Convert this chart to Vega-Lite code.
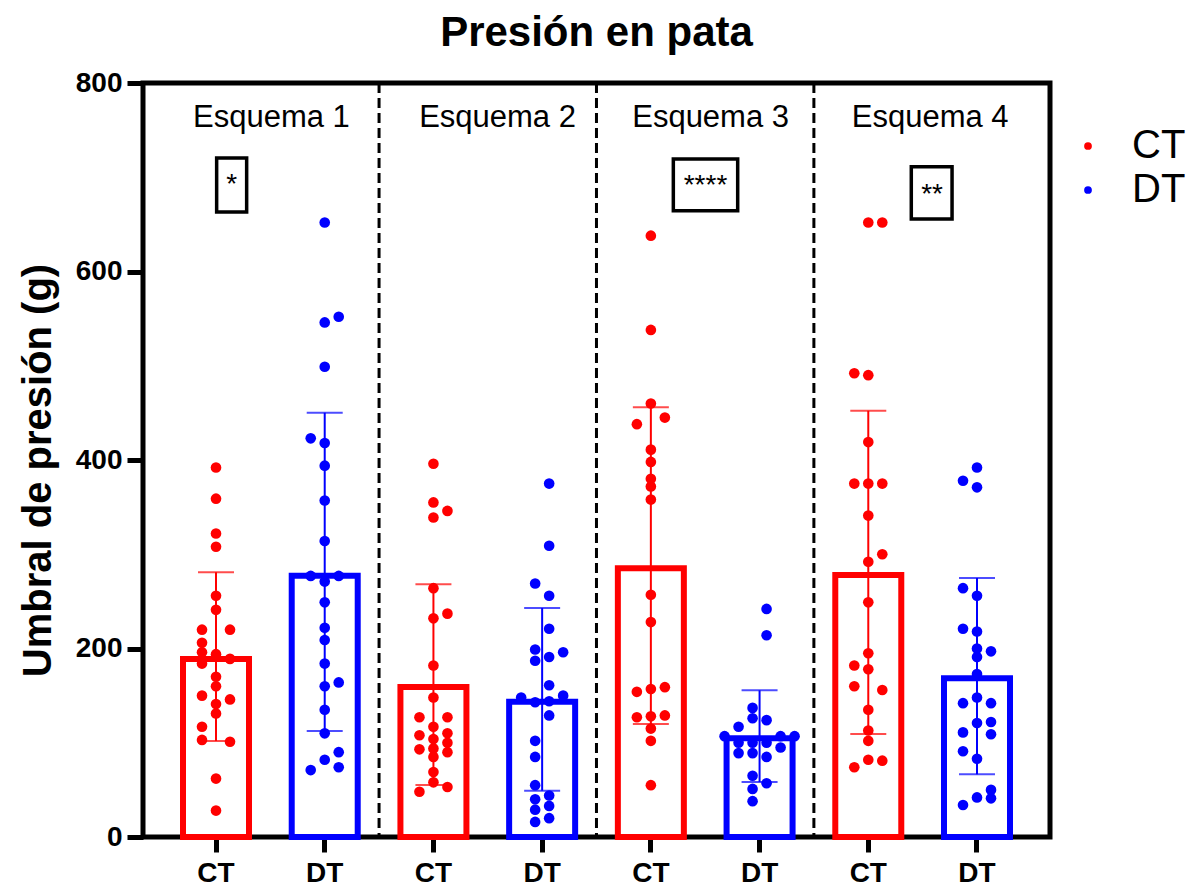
{
"$schema": "https://vega.github.io/schema/vega-lite/v6.json",
"width": 907, "height": 754,
"autosize": "none",
"padding": {"left": 143, "top": 83, "right": 140, "bottom": 49},
"background": "white",
"config": {
"font": "Liberation Sans",
"view": {"stroke": "black", "strokeWidth": 5},
"axisY": {"domain": false, "grid": false, "labelFontSize": 28, "labelFontWeight": "bold", "labelColor": "black", "labelFont": "Liberation Sans", "labelPadding": 5, "tickSize": 16, "tickWidth": 5, "tickColor": "black", "titleFontSize": 40, "titleFontWeight": "bold", "titleColor": "black", "titleFont": "Liberation Sans", "titleX": -105, "titleY": 387, "titleAngle": -90, "titleAlign": "center", "titleBaseline": "middle"},
"axisX": {"domain": false, "grid": false, "labelAngle": 0, "labelFontSize": 28, "labelFontWeight": "bold", "labelColor": "black", "labelFont": "Liberation Sans", "tickSize": 15, "tickWidth": 5, "tickColor": "black", "labelPadding": 29, "labelBaseline": "alphabetic"}
},
"title": {"text": "Presión en pata", "fontSize": 42, "fontWeight": "bold", "font": "Liberation Sans", "color": "black", "anchor": "middle", "baseline": "alphabetic", "frame": "group", "offset": -19},
"datasets": {
"puntos": [
{"cat":"1 CT","grupo":"CT","valor":392,"carril":0},{"cat":"1 CT","grupo":"CT","valor":359,"carril":0},{"cat":"1 CT","grupo":"CT","valor":322,"carril":0},{"cat":"1 CT","grupo":"CT","valor":308,"carril":0},{"cat":"1 CT","grupo":"CT","valor":256,"carril":0},{"cat":"1 CT","grupo":"CT","valor":241,"carril":0},{"cat":"1 CT","grupo":"CT","valor":220,"carril":-2},{"cat":"1 CT","grupo":"CT","valor":220,"carril":2},{"cat":"1 CT","grupo":"CT","valor":206,"carril":-2},{"cat":"1 CT","grupo":"CT","valor":196,"carril":-2},{"cat":"1 CT","grupo":"CT","valor":194,"carril":0},{"cat":"1 CT","grupo":"CT","valor":189,"carril":2},{"cat":"1 CT","grupo":"CT","valor":184,"carril":-2},{"cat":"1 CT","grupo":"CT","valor":170,"carril":0},{"cat":"1 CT","grupo":"CT","valor":160,"carril":0},{"cat":"1 CT","grupo":"CT","valor":150,"carril":-2},{"cat":"1 CT","grupo":"CT","valor":146,"carril":2},{"cat":"1 CT","grupo":"CT","valor":141,"carril":0},{"cat":"1 CT","grupo":"CT","valor":131,"carril":0},{"cat":"1 CT","grupo":"CT","valor":117,"carril":-2},{"cat":"1 CT","grupo":"CT","valor":103,"carril":-2},{"cat":"1 CT","grupo":"CT","valor":101,"carril":2},{"cat":"1 CT","grupo":"CT","valor":62,"carril":0},{"cat":"1 CT","grupo":"CT","valor":28,"carril":0},
{"cat":"1 DT","grupo":"DT","valor":652,"carril":0},{"cat":"1 DT","grupo":"DT","valor":552,"carril":2},{"cat":"1 DT","grupo":"DT","valor":546,"carril":0},{"cat":"1 DT","grupo":"DT","valor":499,"carril":0},{"cat":"1 DT","grupo":"DT","valor":423,"carril":-2},{"cat":"1 DT","grupo":"DT","valor":418,"carril":0},{"cat":"1 DT","grupo":"DT","valor":394,"carril":0},{"cat":"1 DT","grupo":"DT","valor":357,"carril":0},{"cat":"1 DT","grupo":"DT","valor":314,"carril":0},{"cat":"1 DT","grupo":"DT","valor":277,"carril":-2},{"cat":"1 DT","grupo":"DT","valor":277,"carril":2},{"cat":"1 DT","grupo":"DT","valor":271,"carril":0},{"cat":"1 DT","grupo":"DT","valor":249,"carril":0},{"cat":"1 DT","grupo":"DT","valor":222,"carril":0},{"cat":"1 DT","grupo":"DT","valor":209,"carril":0},{"cat":"1 DT","grupo":"DT","valor":184,"carril":0},{"cat":"1 DT","grupo":"DT","valor":164,"carril":2},{"cat":"1 DT","grupo":"DT","valor":160,"carril":0},{"cat":"1 DT","grupo":"DT","valor":135,"carril":0},{"cat":"1 DT","grupo":"DT","valor":110,"carril":0},{"cat":"1 DT","grupo":"DT","valor":90,"carril":2},{"cat":"1 DT","grupo":"DT","valor":82,"carril":0},{"cat":"1 DT","grupo":"DT","valor":74,"carril":2},{"cat":"1 DT","grupo":"DT","valor":71,"carril":-2},
{"cat":"2 CT","grupo":"CT","valor":396,"carril":0},{"cat":"2 CT","grupo":"CT","valor":355,"carril":0},{"cat":"2 CT","grupo":"CT","valor":346,"carril":2},{"cat":"2 CT","grupo":"CT","valor":339,"carril":0},{"cat":"2 CT","grupo":"CT","valor":264,"carril":0},{"cat":"2 CT","grupo":"CT","valor":237,"carril":2},{"cat":"2 CT","grupo":"CT","valor":232,"carril":0},{"cat":"2 CT","grupo":"CT","valor":182,"carril":0},{"cat":"2 CT","grupo":"CT","valor":148,"carril":0},{"cat":"2 CT","grupo":"CT","valor":127,"carril":-2},{"cat":"2 CT","grupo":"CT","valor":127,"carril":2},{"cat":"2 CT","grupo":"CT","valor":117,"carril":0},{"cat":"2 CT","grupo":"CT","valor":108,"carril":-2},{"cat":"2 CT","grupo":"CT","valor":110,"carril":2},{"cat":"2 CT","grupo":"CT","valor":104,"carril":0},{"cat":"2 CT","grupo":"CT","valor":100,"carril":2},{"cat":"2 CT","grupo":"CT","valor":94,"carril":0},{"cat":"2 CT","grupo":"CT","valor":93,"carril":-2},{"cat":"2 CT","grupo":"CT","valor":90,"carril":2},{"cat":"2 CT","grupo":"CT","valor":85,"carril":0},{"cat":"2 CT","grupo":"CT","valor":69,"carril":0},{"cat":"2 CT","grupo":"CT","valor":58,"carril":0},{"cat":"2 CT","grupo":"CT","valor":53,"carril":2},{"cat":"2 CT","grupo":"CT","valor":48,"carril":-2},
{"cat":"2 DT","grupo":"DT","valor":375,"carril":1},{"cat":"2 DT","grupo":"DT","valor":309,"carril":1},{"cat":"2 DT","grupo":"DT","valor":269,"carril":-1},{"cat":"2 DT","grupo":"DT","valor":256,"carril":1},{"cat":"2 DT","grupo":"DT","valor":221,"carril":1},{"cat":"2 DT","grupo":"DT","valor":199,"carril":-1},{"cat":"2 DT","grupo":"DT","valor":196,"carril":3},{"cat":"2 DT","grupo":"DT","valor":191,"carril":1},{"cat":"2 DT","grupo":"DT","valor":187,"carril":-1},{"cat":"2 DT","grupo":"DT","valor":161,"carril":1},{"cat":"2 DT","grupo":"DT","valor":148,"carril":-3},{"cat":"2 DT","grupo":"DT","valor":150,"carril":3},{"cat":"2 DT","grupo":"DT","valor":144,"carril":1},{"cat":"2 DT","grupo":"DT","valor":143,"carril":-1},{"cat":"2 DT","grupo":"DT","valor":129,"carril":1},{"cat":"2 DT","grupo":"DT","valor":102,"carril":-1},{"cat":"2 DT","grupo":"DT","valor":85,"carril":-1},{"cat":"2 DT","grupo":"DT","valor":55,"carril":-1},{"cat":"2 DT","grupo":"DT","valor":44,"carril":1},{"cat":"2 DT","grupo":"DT","valor":40,"carril":-1},{"cat":"2 DT","grupo":"DT","valor":33,"carril":1},{"cat":"2 DT","grupo":"DT","valor":29,"carril":-1},{"cat":"2 DT","grupo":"DT","valor":20,"carril":1},{"cat":"2 DT","grupo":"DT","valor":16,"carril":-1},
{"cat":"3 CT","grupo":"CT","valor":638,"carril":0},{"cat":"3 CT","grupo":"CT","valor":538,"carril":0},{"cat":"3 CT","grupo":"CT","valor":460,"carril":0},{"cat":"3 CT","grupo":"CT","valor":445,"carril":2},{"cat":"3 CT","grupo":"CT","valor":438,"carril":-2},{"cat":"3 CT","grupo":"CT","valor":411,"carril":0},{"cat":"3 CT","grupo":"CT","valor":398,"carril":0},{"cat":"3 CT","grupo":"CT","valor":380,"carril":0},{"cat":"3 CT","grupo":"CT","valor":372,"carril":0},{"cat":"3 CT","grupo":"CT","valor":358,"carril":0},{"cat":"3 CT","grupo":"CT","valor":257,"carril":0},{"cat":"3 CT","grupo":"CT","valor":228,"carril":0},{"cat":"3 CT","grupo":"CT","valor":154,"carril":-2},{"cat":"3 CT","grupo":"CT","valor":157,"carril":0},{"cat":"3 CT","grupo":"CT","valor":159,"carril":2},{"cat":"3 CT","grupo":"CT","valor":127,"carril":-2},{"cat":"3 CT","grupo":"CT","valor":128,"carril":0},{"cat":"3 CT","grupo":"CT","valor":129,"carril":2},{"cat":"3 CT","grupo":"CT","valor":115,"carril":0},{"cat":"3 CT","grupo":"CT","valor":102,"carril":0},{"cat":"3 CT","grupo":"CT","valor":55,"carril":0},
{"cat":"3 DT","grupo":"DT","valor":242,"carril":1},{"cat":"3 DT","grupo":"DT","valor":214,"carril":1},{"cat":"3 DT","grupo":"DT","valor":137,"carril":-1},{"cat":"3 DT","grupo":"DT","valor":126,"carril":-1},{"cat":"3 DT","grupo":"DT","valor":124,"carril":1},{"cat":"3 DT","grupo":"DT","valor":117,"carril":-3},{"cat":"3 DT","grupo":"DT","valor":107,"carril":-5},{"cat":"3 DT","grupo":"DT","valor":107,"carril":3},{"cat":"3 DT","grupo":"DT","valor":107,"carril":5},{"cat":"3 DT","grupo":"DT","valor":100,"carril":-3},{"cat":"3 DT","grupo":"DT","valor":100,"carril":-1},{"cat":"3 DT","grupo":"DT","valor":100,"carril":1},{"cat":"3 DT","grupo":"DT","valor":95,"carril":3},{"cat":"3 DT","grupo":"DT","valor":89,"carril":-3},{"cat":"3 DT","grupo":"DT","valor":89,"carril":-1},{"cat":"3 DT","grupo":"DT","valor":85,"carril":1},{"cat":"3 DT","grupo":"DT","valor":65,"carril":-1},{"cat":"3 DT","grupo":"DT","valor":57,"carril":1},{"cat":"3 DT","grupo":"DT","valor":51,"carril":-1},{"cat":"3 DT","grupo":"DT","valor":38,"carril":-1},
{"cat":"4 CT","grupo":"CT","valor":652,"carril":0},{"cat":"4 CT","grupo":"CT","valor":652,"carril":2},{"cat":"4 CT","grupo":"CT","valor":492,"carril":-2},{"cat":"4 CT","grupo":"CT","valor":490,"carril":0},{"cat":"4 CT","grupo":"CT","valor":419,"carril":0},{"cat":"4 CT","grupo":"CT","valor":375,"carril":-2},{"cat":"4 CT","grupo":"CT","valor":375,"carril":0},{"cat":"4 CT","grupo":"CT","valor":375,"carril":2},{"cat":"4 CT","grupo":"CT","valor":341,"carril":0},{"cat":"4 CT","grupo":"CT","valor":300,"carril":2},{"cat":"4 CT","grupo":"CT","valor":292,"carril":0},{"cat":"4 CT","grupo":"CT","valor":249,"carril":0},{"cat":"4 CT","grupo":"CT","valor":195,"carril":0},{"cat":"4 CT","grupo":"CT","valor":182,"carril":-2},{"cat":"4 CT","grupo":"CT","valor":178,"carril":0},{"cat":"4 CT","grupo":"CT","valor":160,"carril":-2},{"cat":"4 CT","grupo":"CT","valor":156,"carril":2},{"cat":"4 CT","grupo":"CT","valor":135,"carril":0},{"cat":"4 CT","grupo":"CT","valor":113,"carril":0},{"cat":"4 CT","grupo":"CT","valor":102,"carril":0},{"cat":"4 CT","grupo":"CT","valor":82,"carril":0},{"cat":"4 CT","grupo":"CT","valor":81,"carril":2},{"cat":"4 CT","grupo":"CT","valor":74,"carril":-2},
{"cat":"4 DT","grupo":"DT","valor":392,"carril":0},{"cat":"4 DT","grupo":"DT","valor":378,"carril":-2},{"cat":"4 DT","grupo":"DT","valor":371,"carril":0},{"cat":"4 DT","grupo":"DT","valor":264,"carril":-2},{"cat":"4 DT","grupo":"DT","valor":256,"carril":0},{"cat":"4 DT","grupo":"DT","valor":221,"carril":-2},{"cat":"4 DT","grupo":"DT","valor":218,"carril":0},{"cat":"4 DT","grupo":"DT","valor":200,"carril":0},{"cat":"4 DT","grupo":"DT","valor":197,"carril":2},{"cat":"4 DT","grupo":"DT","valor":191,"carril":0},{"cat":"4 DT","grupo":"DT","valor":173,"carril":0},{"cat":"4 DT","grupo":"DT","valor":148,"carril":0},{"cat":"4 DT","grupo":"DT","valor":142,"carril":-2},{"cat":"4 DT","grupo":"DT","valor":142,"carril":2},{"cat":"4 DT","grupo":"DT","valor":122,"carril":2},{"cat":"4 DT","grupo":"DT","valor":121,"carril":0},{"cat":"4 DT","grupo":"DT","valor":111,"carril":-2},{"cat":"4 DT","grupo":"DT","valor":109,"carril":2},{"cat":"4 DT","grupo":"DT","valor":91,"carril":-2},{"cat":"4 DT","grupo":"DT","valor":83,"carril":0},{"cat":"4 DT","grupo":"DT","valor":50,"carril":2},{"cat":"4 DT","grupo":"DT","valor":42,"carril":0},{"cat":"4 DT","grupo":"DT","valor":41,"carril":2},{"cat":"4 DT","grupo":"DT","valor":34,"carril":-2}
],
"resumen": [
{"cat":"1 CT","grupo":"CT","media":188.9,"inf":101.9,"sup":280.9},
{"cat":"1 DT","grupo":"DT","media":277.2,"inf":112.5,"sup":450.2},
{"cat":"2 CT","grupo":"CT","media":159.2,"inf":55.2,"sup":268.1},
{"cat":"2 DT","grupo":"DT","media":143.6,"inf":49.1,"sup":243.0},
{"cat":"3 CT","grupo":"CT","media":285.1,"inf":119.9,"sup":455.9},
{"cat":"3 DT","grupo":"DT","media":104.7,"inf":58.4,"sup":155.6},
{"cat":"4 CT","grupo":"CT","media":278.0,"inf":109.3,"sup":452.3},
{"cat":"4 DT","grupo":"DT","media":168.4,"inf":66.5,"sup":274.8}
],
"separadores": [{"pos":2.5},{"pos":4.5},{"pos":6.5}],
"esquemas": [
{"pos":1.51,"valor":753.6,"texto":"Esquema 1"},
{"pos":3.59,"valor":753.6,"texto":"Esquema 2"},
{"pos":5.55,"valor":753.6,"texto":"Esquema 3"},
{"pos":7.57,"valor":753.6,"texto":"Esquema 4"}
],
"significancia": [
{"x1":1.006,"x2":1.282,"y1":720.4,"y2":663.1,"tx":1.144,"ty":683,"texto":"*"},
{"x1":5.207,"x2":5.799,"y1":719.4,"y2":664.5,"tx":5.503,"ty":682,"texto":"****"},
{"x1":7.396,"x2":7.771,"y1":711.2,"y2":655.7,"tx":7.587,"ty":673,"texto":"**"}
]
},
"layer": [
{
"data": {"name": "resumen"},
"layer": [
{
"mark": {"type": "bar", "filled": false, "strokeWidth": 6, "width": 66},
"encoding": {
"y": {"field": "media", "type": "quantitative", "title": "Umbral de presión (g)", "scale": {"domain": [0, 800], "nice": false}, "axis": {"values": [0,200,400,600,800]}},
"stroke": {"field": "grupo", "type": "nominal", "scale": {"domain": ["DT","CT"], "range": ["#0000ff","#ff0000"]}, "legend": null}
}
},
{
"mark": {"type": "rule", "strokeWidth": 2},
"encoding": {
"y": {"field": "inf", "type": "quantitative", "title": "Umbral de presión (g)", "scale": {"domain": [0, 800], "nice": false}, "axis": {"values": [0,200,400,600,800]}},
"y2": {"field": "sup"},
"stroke": {"field": "grupo", "type": "nominal", "scale": {"domain": ["DT","CT"], "range": ["#0000ff","#ff0000"]}, "legend": null}
}
},
{
"mark": {"type": "tick", "thickness": 2, "size": 36},
"encoding": {
"y": {"field": "sup", "type": "quantitative", "title": "Umbral de presión (g)", "scale": {"domain": [0, 800], "nice": false}, "axis": {"values": [0,200,400,600,800]}},
"fill": {"field": "grupo", "type": "nominal", "scale": {"domain": ["DT","CT"], "range": ["#0000ff","#ff0000"]}, "legend": null}
}
},
{
"mark": {"type": "tick", "thickness": 2, "size": 36},
"encoding": {
"y": {"field": "inf", "type": "quantitative", "title": "Umbral de presión (g)", "scale": {"domain": [0, 800], "nice": false}, "axis": {"values": [0,200,400,600,800]}},
"fill": {"field": "grupo", "type": "nominal", "scale": {"domain": ["DT","CT"], "range": ["#0000ff","#ff0000"]}, "legend": null}
}
}
],
"encoding": {
"x": {"field": "cat", "type": "nominal", "sort": null,
"scale": {"domain": ["1 CT","1 DT","2 CT","2 DT","3 CT","3 DT","4 CT","4 DT"], "paddingInner": 0.393, "paddingOuter": 0.368},
"axis": {"title": null, "labelExpr": "slice(datum.value, 2)", "bandPosition": 0.5}}
}
},
{
"data": {"name": "puntos"},
"mark": {"type": "circle", "size": 113, "opacity": 1},
"encoding": {
"x": {"field": "cat", "type": "nominal", "sort": null,
"scale": {"domain": ["1 CT","1 DT","2 CT","2 DT","3 CT","3 DT","4 CT","4 DT"], "paddingInner": 0.393, "paddingOuter": 0.368}, "axis": null},
"xOffset": {"field": "carril", "type": "quantitative", "scale": {"domain": [-5, 5], "range": [-2, 68]}},
"y": {"field": "valor", "type": "quantitative", "title": "Umbral de presión (g)", "scale": {"domain": [0, 800], "nice": false}, "axis": {"values": [0,200,400,600,800]}},
"color": {"field": "grupo", "type": "nominal", "scale": {"domain": ["CT","DT"], "range": ["#ff0000","#0000ff"]},
"legend": {"title": null, "orient": "none", "legendX": 925, "legendY": 43, "padding": 0, "symbolType": "circle", "symbolSize": 60, "labelFontSize": 40, "labelFont": "Liberation Sans", "labelColor": "black", "labelOffset": 24, "rowPadding": 4, "labelLimit": 200, "symbolStrokeWidth": 0}}
}
},
{
"layer": [
{
"data": {"name": "separadores"},
"mark": {"type": "rule", "strokeWidth": 3, "strokeDash": [10, 5], "color": "black"},
"encoding": {
"x": {"field": "pos", "type": "quantitative", "scale": {"domain": [0.3285, 8.672], "nice": false, "zero": false}, "axis": null}
}
},
{
"data": {"name": "esquemas"},
"mark": {"type": "text", "fontSize": 31, "font": "Liberation Sans", "color": "black", "align": "center", "baseline": "alphabetic"},
"encoding": {
"x": {"field": "pos", "type": "quantitative", "scale": {"domain": [0.3285, 8.672], "nice": false, "zero": false}, "axis": null},
"y": {"field": "valor", "type": "quantitative", "title": "Umbral de presión (g)", "scale": {"domain": [0, 800], "nice": false}, "axis": {"values": [0,200,400,600,800]}},
"text": {"field": "texto"}
}
},
{
"data": {"name": "significancia"},
"mark": {"type": "rect", "fill": "white", "stroke": "black", "strokeWidth": 3.5},
"encoding": {
"x": {"field": "x1", "type": "quantitative", "scale": {"domain": [0.3285, 8.672], "nice": false, "zero": false}, "axis": null},
"x2": {"field": "x2"},
"y": {"field": "y1", "type": "quantitative", "title": "Umbral de presión (g)", "scale": {"domain": [0, 800], "nice": false}, "axis": {"values": [0,200,400,600,800]}},
"y2": {"field": "y2"}
}
},
{
"data": {"name": "significancia"},
"mark": {"type": "text", "fontSize": 28, "font": "Liberation Sans", "color": "black", "align": "center", "baseline": "alphabetic"},
"encoding": {
"x": {"field": "tx", "type": "quantitative", "scale": {"domain": [0.3285, 8.672], "nice": false, "zero": false}, "axis": null},
"y": {"field": "ty", "type": "quantitative", "title": "Umbral de presión (g)", "scale": {"domain": [0, 800], "nice": false}, "axis": {"values": [0,200,400,600,800]}},
"text": {"field": "texto"}
}
}
]
}
],
"resolve": {"scale": {"x": "independent"}}
}
